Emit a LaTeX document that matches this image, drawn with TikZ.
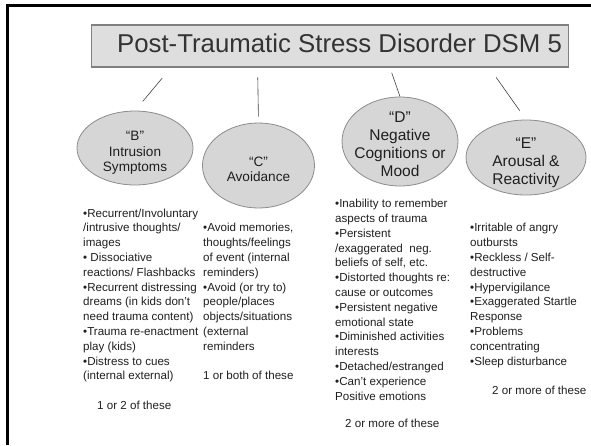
\documentclass[tikz,border=0pt]{standalone}
\usepackage{fontspec}
\setmainfont{Liberation Sans}
\usetikzlibrary{shapes.geometric}
\tikzset{
  frame/.style     = {line width=3pt, black},
  titlebox/.style  = {rectangle, draw=black!50, line width=1.8pt, fill=black!13,
                      minimum width=477pt, minimum height=42.4pt, inner sep=0pt},
  titletext/.style = {font=\fontsize{25.8}{30}\selectfont, text=black!80, inner sep=0pt},
  bubble/.style    = {ellipse, draw=black!45, line width=0.8pt, fill=black!16, inner sep=0pt},
  small/.style     = {align=center, inner sep=0pt, text=black!88,
                      font=\fontsize{13.6}{15.5}\selectfont},
  large/.style     = {align=center, inner sep=0pt, text=black!88,
                      font=\fontsize{15.5}{18}\selectfont},
  items/.style     = {anchor=north west, align=left, inner sep=0pt, text=black!88,
                      font=\fontsize{11.6}{14.8}\selectfont},
  tally/.style     = {anchor=base west, inner sep=0pt, text=black!88,
                      font=\fontsize{11.6}{14.8}\selectfont},
  link/.style      = {draw=black!75, line width=0.6pt}
}

\begin{document}
\begin{tikzpicture}[x=1pt, y=-1pt]
  \useasboundingbox (0,0) rectangle (591,445);
  \draw[frame] (591,5.5) -- (7.5,5.5) -- (7.5,445);

  % heading
  \node[titlebox] (title) at (330,46) {};
  \node[titletext, anchor=base] (head) at (339.5,52.3) {Post-Traumatic Stress Disorder DSM 5};

  % symptom clusters
  \node[bubble, minimum width=116pt, minimum height=74pt,
        label={[small, yshift=-5pt]center:“B”\\Intrusion\\Symptoms}] (B) at (135,148) {};
  \node[bubble, minimum width=112pt, minimum height=85pt,
        label={[small, yshift=-4pt]center:“C”\\Avoidance}] (C) at (258.5,165.5) {};
  \node[bubble, minimum width=116pt, minimum height=89pt,
        label={[large, yshift=-2.5pt]center:“D”\\Negative\\Cognitions or\\Mood}] (D) at (400,141.5) {};
  \node[bubble, minimum width=120pt, minimum height=75pt,
        label={[large, yshift=-5.5pt]center:“E”\\Arousal \&\\Reactivity}] (E) at (526,157.5) {};

  \draw[link, shorten <=13pt, shorten >=12pt] ([xshift=80pt]title.south west) -- (B.north);
  \draw[link, shorten <=9.3pt, shorten >=6pt] ([xshift=167pt]title.south west) -- (C.north);
  \draw[link, shorten <=5pt] ([xshift=299.5pt]title.south west) -- (D.north);
  \draw[link, shorten <=11.4pt, shorten >=11pt] ([xshift=399pt]title.south west) -- (E.north);

  % criteria lists
  \node[items] (Blist) at (83,206.6) {\strut•Recurrent/Involuntary\\/intrusive thoughts/\\images\\• Dissociative\\reactions/ Flashbacks\\•Recurrent distressing\\dreams (in kids don’t\\need trauma content)\\•Trauma re-enactment\\play (kids)\\•Distress to cues\\(internal external)};
  \node[items] (Clist) at (203,221.4) {\strut•Avoid memories,\\thoughts/feelings\\of event (internal\\reminders)\\•Avoid (or try to)\\people/places\\objects/situations\\(external\\reminders};
  \node[items] (Dlist) at (335,197.1) {\strut•Inability to remember\\aspects of trauma\\•Persistent\\/exaggerated~ neg.\\beliefs of self, etc.\\•Distorted thoughts re:\\cause or outcomes\\•Persistent negative\\emotional state\\•Diminished activities\\interests\\•Detached/estranged\\•Can’t experience\\Positive emotions};
  \node[items] (Elist) at (470,221.4) {\strut•Irritable of angry\\outbursts\\•Reckless / Self-\\destructive\\•Hypervigilance\\•Exaggerated Startle\\Response\\•Problems\\concentrating\\•Sleep disturbance};

  % how many are needed
  \node[tally] (Bnote) at (97,409.6) {1 or 2 of these};
  \node[tally] (Cnote) at (203,379.8) {1 or both of these};
  \node[tally] (Dnote) at (345,427) {2 or more of these};
  \node[tally] (Enote) at (492,394.6) {2 or more of these};
\end{tikzpicture}
\end{document}
